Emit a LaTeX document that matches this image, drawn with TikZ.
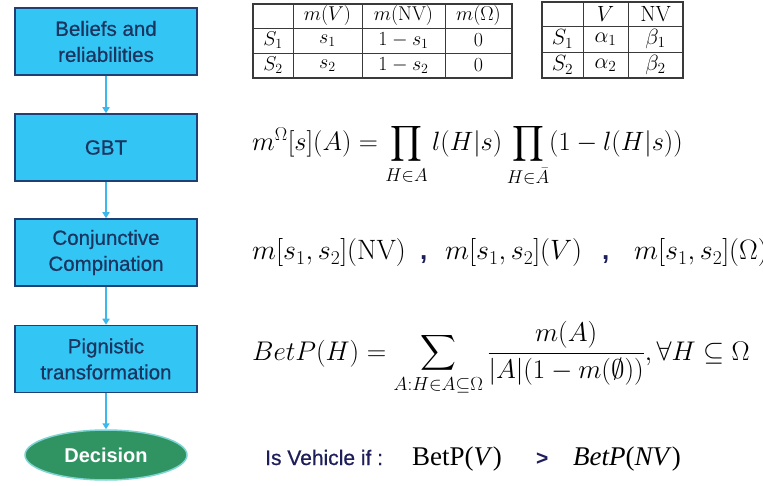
\RequirePackage{fix-cm}
\documentclass[tikz,border=0pt]{standalone}
\usepackage{amsmath}
\usepackage{exscale}
\usepackage{fontspec}
\usetikzlibrary{arrows.meta,shapes.geometric}
\newfontfamily\arialf{Liberation Sans}
\newfontfamily\arialfb{Liberation Sans}[FakeBold=0.6]
\newfontfamily\timesf{Liberation Serif}
\definecolor{boxfill}{HTML}{33C6F4}
\definecolor{boxborder}{HTML}{1F3F75}
\definecolor{boxtext}{HTML}{1B3560}
\definecolor{arrowc}{HTML}{3CB8EC}
\definecolor{decfill}{HTML}{2F9461}
\definecolor{decborder}{HTML}{7FD3D3}
\definecolor{tabline}{HTML}{3A3A3A}
\definecolor{navytext}{HTML}{1E1E5A}
\tikzset{
  stepbox/.style={draw=boxborder, line width=1.5pt, fill=boxfill, minimum width=182pt, minimum height=67pt, align=center, inner sep=0pt, text=boxtext, font=\arialfb\fontsize{20.5}{26}\selectfont},
  decbox/.style={ellipse, draw=decborder, line width=1.5pt, fill=decfill, minimum width=162pt, minimum height=50pt, inner sep=0pt, text=white, font=\arialf\bfseries\fontsize{20}{24}\selectfont},
  flowarrow/.style={draw=arrowc, line width=2pt, -{Triangle[width=7pt,length=6pt]}},
  tabgrid/.style={draw=tabline, line width=0.7pt},
  tabframe/.style={draw=tabline, line width=1.2pt},
  tabcell/.style={inner sep=0pt, font=\fontsize{20}{22}\selectfont},
  tabcellb/.style={inner sep=0pt, font=\fontsize{22}{24}\selectfont},
  eq/.style={inner sep=0pt, anchor=base west, font=\fontsize{26.5}{30}\selectfont},
  eqb/.style={inner sep=0pt, anchor=base west, font=\fontsize{27}{30}\selectfont},
  eqc/.style={inner sep=0pt, anchor=base west, font=\fontsize{28}{32}\selectfont},
  bigcomma/.style={inner sep=0pt, anchor=base west, text=navytext, font=\arialf\bfseries\fontsize{26}{30}\selectfont},
  decline/.style={inner sep=0pt, anchor=base west, text=navytext, font=\arialfb\fontsize{21}{24}\selectfont},
  timesline/.style={inner sep=0pt, anchor=base west, font=\timesf\fontsize{27}{30}\selectfont}
}
\begin{document}
\begin{tikzpicture}[x=1pt,y=-1pt]
\useasboundingbox (0,0) rectangle (763,486);
\clip (0,0) rectangle (763,486);
\fill[white] (0,0) rectangle (763,486);

% flow chart
\node[stepbox] (b1) at (106,41.5) {Beliefs and\\reliabilities};
\node[stepbox] (b2) at (106,147.5) {GBT};
\node[stepbox] (b3) at (106,252.5) {Conjunctive\\Compination};
\node[stepbox] (b4) at (106,359) {Pignistic\\transformation};
\node[decbox] (b5) at (106,455) {Decision};
\draw[flowarrow] (b1.south) -- (b2.north);
\draw[flowarrow] (b2.south) -- (b3.north);
\draw[flowarrow] (b3.south) -- (b4.north);
\draw[flowarrow] (b4.south) -- (b5.north);

% table 1
\draw[tabgrid] (293,4) -- (293,78) (362,4) -- (362,78) (445,4) -- (445,78)
  (253,28) -- (512,28) (253,53) -- (512,53);
\draw[tabframe] (253,4) rectangle (512,78);
\node[tabcell] (t1h1) at (327.5,16) {$m(V)$};
\node[tabcell] (t1h2) at (403.5,16) {$m(\mathrm{NV})$};
\node[tabcell] (t1h3) at (478.5,16) {$m(\Omega)$};
\node[tabcell] (t1r1) at (273,40.5) {$S_1$};
\node[tabcell] (t1a1) at (327.5,40.5) {$s_1$};
\node[tabcell] (t1b1) at (403.5,40.5) {$1-s_1$};
\node[tabcell] (t1c1) at (478.5,40.5) {$0$};
\node[tabcell] (t1r2) at (273,65.5) {$S_2$};
\node[tabcell] (t1a2) at (327.5,65.5) {$s_2$};
\node[tabcell] (t1b2) at (403.5,65.5) {$1-s_2$};
\node[tabcell] (t1c2) at (478.5,65.5) {$0$};

% table 2
\draw[tabgrid] (583,2) -- (583,78) (628,2) -- (628,78)
  (542,26) -- (683,26) (542,52) -- (683,52);
\draw[tabframe] (542,2) rectangle (683,78);
\node[tabcellb] (t2h1) at (605.5,14) {$V$};
\node[tabcellb] (t2h2) at (655.5,14) {$\mathrm{NV}$};
\node[tabcellb] (t2r1) at (562.5,39) {$S_1$};
\node[tabcellb] (t2a1) at (605.5,39) {$\alpha_1$};
\node[tabcellb] (t2b1) at (655.5,39) {$\beta_1$};
\node[tabcellb] (t2r2) at (562.5,65) {$S_2$};
\node[tabcellb] (t2a2) at (605.5,65) {$\alpha_2$};
\node[tabcellb] (t2b2) at (655.5,65) {$\beta_2$};

% GBT equation
\node[eq] (gbt) at (252,151) {$\displaystyle m^{\Omega}[s](A)=\prod_{H\in A} l(H|s)\prod_{H\in\bar{A}}(1-l(H|s))$};

% conjunctive combination
\node[eqc] (cc1) at (252,260) {$m[s_1,s_2](\mathrm{NV})$};
\node[bigcomma] (cm1) at (420,260) {,};
\node[eqc] (cc2) at (445,260) {$m[s_1,s_2](V)$};
\node[bigcomma] (cm2) at (602,260) {,};
\node[eqc] (cc3) at (634,260) {$m[s_1,s_2](\Omega)$};

% pignistic
\node[eqb] (betp) at (252,360) {$\displaystyle BetP(H)=\sum_{A:H\in A\subseteq\Omega}\frac{m(A)}{|A|(1-m(\emptyset))},\forall H\subseteq\Omega$};

% decision rule
\node[decline] (isv) at (265,465) {Is Vehicle if :};
\node[timesline] (bv) at (412,465) {BetP(\textit{V})};
\node[inner sep=0pt, anchor=base west, text=navytext, font=\arialf\bfseries\fontsize{21}{24}\selectfont] (gt) at (536,465) {>};
\node[timesline] (bnv) at (573,465) {\textit{BetP}(\textit{NV})};
\end{tikzpicture}
\end{document}
